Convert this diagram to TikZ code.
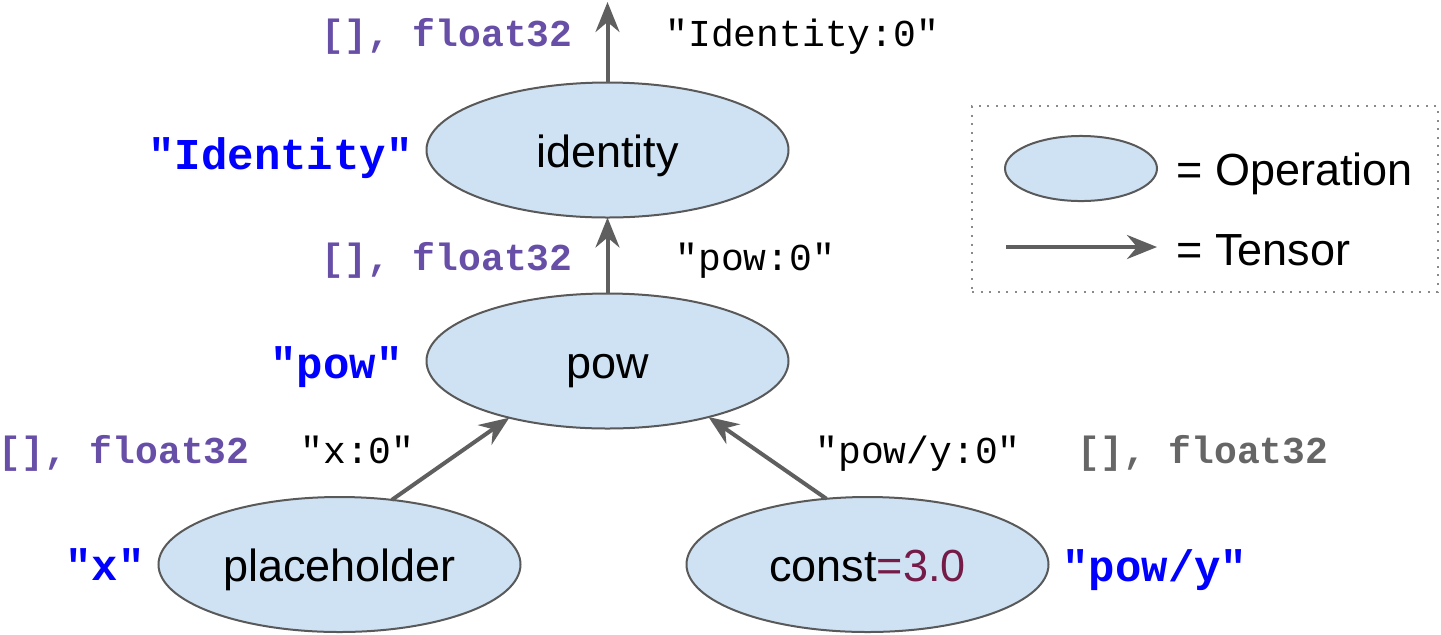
\documentclass[tikz,border=0pt]{standalone}
\usepackage{fontspec}
\setmainfont{Liberation Sans}
\setmonofont{Liberation Mono}
\usetikzlibrary{shapes.geometric,arrows.meta}
\definecolor{opfill}{HTML}{CFE2F3}
\definecolor{opline}{HTML}{595959}
\definecolor{arrowgray}{HTML}{5F5F5F}
\definecolor{shapepurple}{HTML}{674EA7}
\definecolor{nameblue}{HTML}{0000FF}
\definecolor{constred}{HTML}{741B47}
\definecolor{dimgray}{HTML}{666666}
\definecolor{boxgray}{HTML}{8A8A8A}

\tikzset{
  op/.style={ellipse, draw=opline, fill=opfill, line width=1pt,
    minimum width=181pt, minimum height=67.5pt, inner sep=0pt, outer sep=0pt,
    font=\fontsize{22.5}{27}\selectfont, text height=20pt, text depth=3pt},
  tensor/.style={draw=arrowgray, line width=2pt,
    -{Stealth[length=15pt,width=12pt,inset=5pt]}},
  opname/.style={font=\fontsize{22}{26}\selectfont\ttfamily\bfseries,
    text=nameblue, inner sep=0pt},
  dtype/.style={font=\fontsize{19}{23}\selectfont\ttfamily\bfseries,
    text=shapepurple, inner sep=0pt},
  tname/.style={font=\fontsize{19}{23}\selectfont\ttfamily, inner sep=0pt},
  legtext/.style={font=\fontsize{22.5}{27}\selectfont, inner sep=0pt},
}

\begin{document}
\begin{tikzpicture}[x=0.5pt, y=-0.5pt]
  \useasboundingbox (0,0) rectangle (1441,634);

  % operations
  \node[op] (identity) at (607.5,150) {identity};
  \node[op] (pow)      at (607.5,361) {pow};
  \node[op] (ph)       at (339.5,564.5) {placeholder};
  \node[op] (const)    at (867.5,564.5) {const\textcolor{constred}{=3.0}};

  % operation names
  \node[opname, anchor=base east] (nid)  at (413,169) {"Identity"};
  \node[opname, anchor=base east] (npow) at (403,378) {"pow"};
  \node[opname, anchor=base east] (nx)   at (145,580) {"x"};
  \node[opname, anchor=base west] (ny)   at (1062,581) {"pow/y"};

  % tensors
  \coordinate (out) at (607.5,2);
  \draw[tensor] (identity.north) -- (out);
  \draw[tensor] (pow.north) -- (identity.south);
  \draw[tensor] (ph.51) -- (pow.210);
  \draw[tensor] (const.122) -- (pow.331);

  % tensor names and types
  \node[dtype, anchor=base east] (t1) at (573,46) {[], float32};
  \node[tname, anchor=base west] (l1) at (665,46) {"Identity:0"};
  \node[dtype, anchor=base east] (t2) at (573,270) {[], float32};
  \node[tname, anchor=base west] (l2) at (675,270) {"pow:0"};
  \node[dtype, anchor=base east] (t3) at (250,463) {[], float32};
  \node[tname, anchor=base west] (l3) at (300,463) {"x:0"};
  \node[tname, anchor=base west] (l4) at (815,463) {"pow/y:0"};
  \node[dtype, anchor=base west, text=dimgray] (t4) at (1077,463) {[], float32};

  % legend
  \node[draw=boxgray, line width=1pt, dash pattern=on 1pt off 3.3pt,
        minimum width=233pt, minimum height=93pt, inner sep=0pt] (legend) at (1205,199) {};
  \node[op, minimum width=76pt, minimum height=31.5pt] (legop) at (1081,168.5) {};
  \node[legtext, anchor=base west] (lop) at (1176,185) {= Operation};
  \coordinate (la) at (1006,247);
  \coordinate (lb) at (1157,247);
  \draw[tensor] (la) -- (lb);
  \node[legtext, anchor=base west] (lten) at (1176,265) {= Tensor};
\end{tikzpicture}
\end{document}
